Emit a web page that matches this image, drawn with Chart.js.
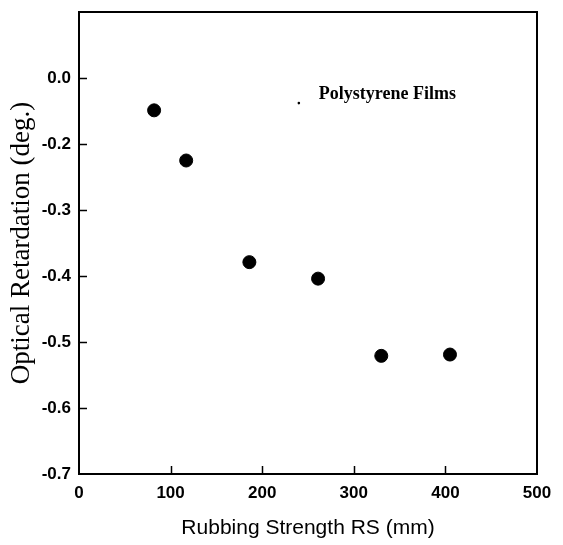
<!DOCTYPE html>
<html>
<head>
<meta charset="utf-8">
<script src="https://cdn.jsdelivr.net/npm/chart.js@4.4.1/dist/chart.umd.min.js"></script>
<style>
  html, body { margin: 0; padding: 0; background: #fff; }
  #wrap { width: 563px; height: 545px; position: relative; }
</style>
</head>
<body>
<div id="wrap"><canvas id="chart"></canvas></div>
<script>
// Rubbing strength (mm) vs optical retardation (deg.), polystyrene films
const rubbingStrength = [82, 117, 186, 261, 330, 405];
const retardation = [-0.149, -0.225, -0.379, -0.404, -0.521, -0.519];

// tick positions and the labels printed on the original figure
const xTickValues = [0, 100, 200, 300, 400, 500];
const yTickValues = [-0.7, -0.6, -0.5, -0.4, -0.3, -0.2, -0.1];
const yTickLabels = ['-0.7', '-0.6', '-0.5', '-0.4', '-0.3', '-0.2', '0.0'];

// small legend marker and its text
const legendPoint = [240, -0.138];
const legendText = 'Polystyrene Films';

const TICK_FONT = { family: 'Liberation Sans, Arial, sans-serif', size: 17, weight: 'bold' };

// frame + inward ticks + legend text
const framePlugin = {
    id: 'frame',
    afterDraw(chart) {
        const ctx = chart.ctx;
        const a = chart.chartArea;
        const xs = chart.scales.x;
        const ys = chart.scales.y;
        ctx.save();
        ctx.strokeStyle = '#000';
        ctx.lineWidth = 2;
        ctx.strokeRect(a.left, a.top, a.right - a.left, a.bottom - a.top);

        ctx.lineWidth = 1.5;
        ctx.beginPath();
        xTickValues.forEach(v => {
            const px = Math.round(xs.getPixelForValue(v)) + 0.5;
            if (v === xs.min || v === xs.max) return;
            ctx.moveTo(px, a.bottom);
            ctx.lineTo(px, a.bottom - 8);
        });
        yTickValues.forEach(v => {
            const py = Math.round(ys.getPixelForValue(v)) + 0.5;
            if (v === ys.min) return;
            ctx.moveTo(a.left, py);
            ctx.lineTo(a.left + 8, py);
        });
        ctx.stroke();

        ctx.fillStyle = '#000';
        ctx.font = 'bold 18px "Liberation Serif", "Times New Roman", serif';
        ctx.textBaseline = 'middle';
        ctx.fillText(legendText,
            xs.getPixelForValue(legendPoint[0]) + 20,
            ys.getPixelForValue(legendPoint[1]) - 9);
        ctx.restore();
    }
};

new Chart(document.getElementById('chart'), {
    type: 'scatter',
    data: {
        datasets: [{
            data: rubbingStrength.map((x, i) => ({ x: x, y: retardation[i] })),
            backgroundColor: '#000',
            borderColor: '#000',
            pointRadius: 6.5,
            pointHoverRadius: 6.5
        }, {
            data: [{ x: legendPoint[0], y: legendPoint[1] }],
            backgroundColor: '#000',
            borderColor: '#000',
            pointRadius: 1.3,
            borderWidth: 0
        }]
    },
    options: {
        responsive: true,
        maintainAspectRatio: false,
        animation: false,
        layout: {
            autoPadding: false,
            padding: { top: 12, right: 26, left: 0, bottom: 0 }
        },
        plugins: {
            legend: { display: false },
            tooltip: { enabled: false }
        },
        scales: {
            x: {
                type: 'linear',
                min: 0,
                max: 500,
                afterBuildTicks: s => { s.ticks = xTickValues.map(v => ({ value: v })); },
                afterFit: s => {
                    s.height = 71;
                    s.paddingLeft = 0;
                    s.paddingRight = 0;
                },
                grid: { display: false, drawTicks: false },
                border: { display: false },
                ticks: { color: '#000', font: TICK_FONT, padding: 9 },
                title: {
                    display: true,
                    text: 'Rubbing Strength RS (mm)',
                    color: '#000',
                    font: { family: 'Liberation Sans, Arial, sans-serif', size: 21 },
                    padding: { top: 6 }
                }
            },
            y: {
                type: 'linear',
                min: -0.7,
                max: 0,
                afterBuildTicks: s => { s.ticks = yTickValues.map(v => ({ value: v })); },
                afterFit: s => {
                    s.width = 79;
                    s.paddingTop = 0;
                    s.paddingBottom = 0;
                },
                grid: { display: false, drawTicks: false },
                border: { display: false },
                ticks: {
                    color: '#000',
                    font: TICK_FONT,
                    padding: 8,
                    callback: (v, i) => yTickLabels[i]
                },
                title: {
                    display: true,
                    text: 'Optical Retardation (deg.)',
                    color: '#000',
                    font: { family: 'Liberation Serif, Times New Roman, serif', size: 27 },
                    padding: { top: 6, bottom: 0 }
                }
            }
        }
    },
    plugins: [framePlugin]
});
</script>
</body>
</html>
